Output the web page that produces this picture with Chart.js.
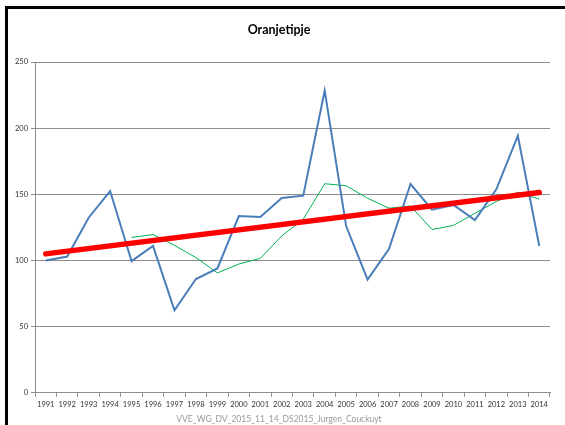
<!DOCTYPE html>
<html>
<head>
<meta charset="utf-8">
<script src="https://cdn.jsdelivr.net/npm/chart.js@4/dist/chart.umd.min.js"></script>
<style>
    body{ margin:0; background:#fff; }
    .wrap{ position:relative; width:565px; height:425px; overflow:hidden; }
    .frame{ position:absolute; left:5px; top:6px; width:700px; height:600px;
            border-top:3px solid #000; border-left:3px solid #000; pointer-events:none; }
</style>
</head>
<body>
<div class="wrap">
    <canvas id="oranje-chart" width="565" height="425"></canvas>
    <div class="frame"></div>
</div>
<script>
const years = ['1991','1992','1993','1994','1995','1996','1997','1998','1999','2000','2001','2002',
               '2003','2004','2005','2006','2007','2008','2009','2010','2011','2012','2013','2014'];

// yearly counts
const counts = [100, 103, 132.3, 152.5, 99.5, 111, 62.4, 86, 94, 133.6, 132.8, 147.2,
                149, 228.3, 126, 85.5, 108.8, 157.8, 138.4, 142, 130.6, 153.8, 194.2, 110.9];

// 5-year moving average (starts in 1995)
const movingAvg = [null, null, null, null, 117.4, 119.6, 111.4, 102.2, 90.6, 97.3, 101.6, 118.6,
                   131.2, 158, 156.5, 147, 139.5, 141.2, 123.4, 126.5, 135.6, 144.6, 151.6, 146.3];

// linear trend, first and last year
const trendEnds = [105, 151.3];

const yTicks = [0, 50, 100, 150, 200, 250];

const trend = years.map((y, i) => i === 0 ? trendEnds[0] : (i === years.length - 1 ? trendEnds[1] : null));

const tickFont = { family: "Lato, 'Open Sans', sans-serif", size: 7.5 };
const gridGrey = "#8c8c8c";

const chart = document.querySelector("#oranje-chart").getContext("2d");

new Chart(chart, {
    type: "line",
    data: {
        labels: years,
        datasets: [
            {
                label: 'Trend',
                data: trend,
                borderColor: "#ff0000",
                borderWidth: 5.5,
                borderCapStyle: "round",
                spanGaps: true,
                pointRadius: 0
            },
            {
                label: 'Aantal',
                data: counts,
                borderColor: "#4a7ebb",
                borderWidth: 2,
                pointRadius: 0
            },
            {
                label: '5 jaar gemiddelde',
                data: movingAvg,
                borderColor: "#00b050",
                borderWidth: 1,
                pointRadius: 0
            }
        ]
    },
    options: {
        responsive: false,
        animation: false,
        layout: {
            padding: { left: 8, right: 15, top: 10, bottom: 0 }
        },
        plugins: {
            legend: { display: false },
            tooltip: { enabled: false },
            title: {
                display: true,
                text: 'Oranjetipje',
                color: "#000",
                font: { family: "Lato, 'Open Sans', sans-serif", size: 12.5, weight: "bold" },
                padding: { top: 12, bottom: 25 }
            },
            subtitle: {
                display: true,
                position: 'bottom',
                text: 'VVE_WG_DV_2015_11_14_DS2015_Jurgen_Couckuyt',
                color: "#999",
                font: { family: "Lato, 'Open Sans', sans-serif", size: 8.5 },
                padding: { top: 4, bottom: 1 }
            }
        },
        scales: {
            x: {
                offset: true,
                afterFit: (scale) => { scale.height = 17; },
                grid: {
                    offset: true,
                    drawOnChartArea: false,
                    drawTicks: true,
                    tickLength: 4,
                    color: gridGrey
                },
                border: { color: gridGrey },
                ticks: {
                    autoSkip: false,
                    maxRotation: 0,
                    padding: 3,
                    color: "#333",
                    font: tickFont
                }
            },
            y: {
                min: 0,
                max: 250,
                afterFit: (scale) => { scale.width = 27; },
                afterBuildTicks: (axis) => { axis.ticks = yTicks.map(v => ({ value: v })); },
                grid: {
                    color: gridGrey,
                    tickLength: 4
                },
                border: { color: gridGrey },
                ticks: {
                    padding: 3,
                    color: "#333",
                    font: tickFont
                }
            }
        }
    }
})
</script>
</body>
</html>
